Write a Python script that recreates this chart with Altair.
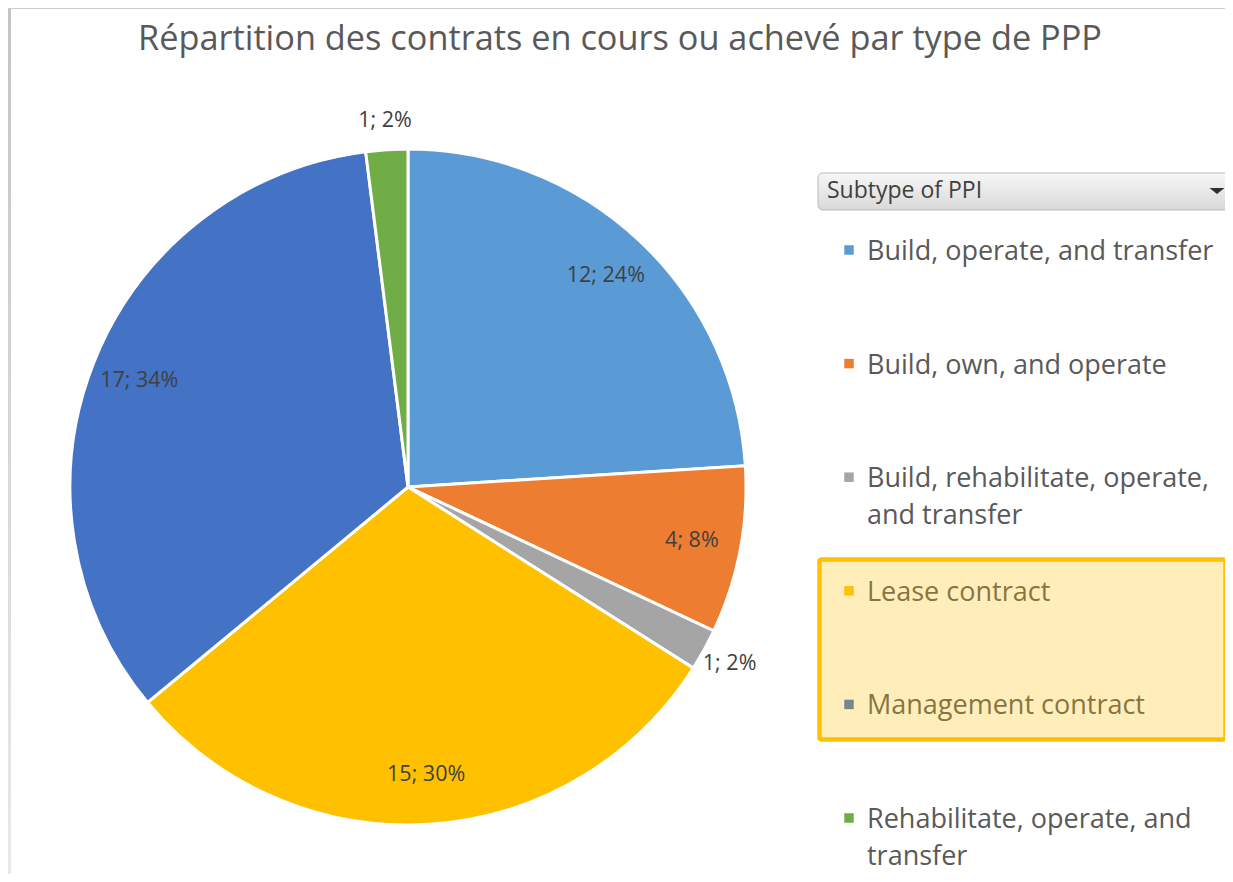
import altair as alt
import pandas as pd

# ---------------- data ----------------
categories = [
    "Build, operate, and transfer",
    "Build, own, and operate",
    "Build, rehabilitate, operate, and transfer",
    "Lease contract",
    "Management contract",
    "Rehabilitate, operate, and transfer",
]
counts = [12, 4, 1, 15, 17, 1]
colors = ["#5B9BD5", "#ED7D31", "#A5A5A5", "#FFC000", "#4472C4", "#70AD47"]
legend_lines = [
    "Build, operate, and transfer",
    "Build, own, and operate",
    "Build, rehabilitate, operate,\nand transfer",
    "Lease contract",
    "Management contract",
    "Rehabilitate, operate, and\ntransfer",
]
title_text = "Répartition des contrats en cours ou achevé par type de PPP"
dropdown_text = "Subtype of PPI"

df = pd.DataFrame({
    "category": categories,
    "count": counts,
    "idx": list(range(len(categories))),
    "legend": legend_lines,
})
one = pd.DataFrame({"k": [0]})

FONT = "Open Sans"
CX, CY, R = 400, 479, 338

color = alt.Color("category:N", scale=alt.Scale(domain=categories, range=colors), legend=None)
theta = alt.Theta("count:Q", stack=True)
order = alt.Order("idx:Q", sort="ascending")

base = alt.Chart(df)

pie = base.mark_arc(radius=R, stroke="white", strokeWidth=3).encode(
    theta=theta, order=order, color=color, x=alt.value(CX), y=alt.value(CY)
)

lab = (
    base.transform_joinaggregate(total="sum(count)")
    .transform_calculate(lab="datum.count + '; ' + format(datum.count / datum.total * 100, '.0f') + '%'")
    .transform_calculate(lab_in="datum.count > 2 ? datum.lab : ''")
    .transform_calculate(lab_out="datum.count > 2 ? '' : datum.lab")
)
lab_in = lab.mark_text(radius=289, font=FONT, fontSize=21.5, color="#404040").encode(
    theta=theta, order=order, text="lab_in:N", x=alt.value(CX), y=alt.value(CY)
)
lab_out = lab.mark_text(radius=367, font=FONT, fontSize=21.5, color="#404040").encode(
    theta=theta, order=order, text="lab_out:N", x=alt.value(CX), y=alt.value(CY)
)

title = alt.Chart(one).mark_text(
    font=FONT, fontSize=34.3, color="#595959", align="center", baseline="middle"
).encode(x=alt.value(612), y=alt.value(32), text=alt.value(title_text))

# frame strips
left_strip = alt.Chart(one).mark_rect(
    fill=alt.Gradient(gradient="linear",
                      stops=[alt.GradientStop(color="#c4c4c4", offset=0),
                             alt.GradientStop(color="#e8e9eb", offset=1)],
                      x1=0, x2=0, y1=0, y2=1)
).encode(x=alt.value(0), x2=alt.value(3), y=alt.value(0), y2=alt.value(866))
top_strip = alt.Chart(one).mark_rect(fill="#cccccc").encode(
    x=alt.value(0), x2=alt.value(1217), y=alt.value(0), y2=alt.value(1)
)

# dropdown button
btn = alt.Chart(one).mark_rect(
    cornerRadius=5, stroke="#b8b8b8", strokeWidth=1,
    fill=alt.Gradient(gradient="linear",
                      stops=[alt.GradientStop(color="#f7f7f7", offset=0),
                             alt.GradientStop(color="#d9d9d9", offset=1)],
                      x1=0, x2=0, y1=0, y2=1),
).encode(x=alt.value(810), x2=alt.value(1226), y=alt.value(165), y2=alt.value(202))
btn_text = alt.Chart(one).mark_text(
    font=FONT, fontSize=23, color="#404040", align="left", baseline="middle"
).encode(x=alt.value(819), y=alt.value(183), text=alt.value(dropdown_text))
btn_arrow = alt.Chart(one).mark_point(
    shape="M-1,-0.4L1,-0.4L0,0.4Z", size=225, filled=True, color="#303030", opacity=1
).encode(x=alt.value(1209), y=alt.value(183))

# legend
ys = alt.Y("category:N", scale=alt.Scale(type="point", domain=categories, range=[242, 810], padding=0), axis=None)
leg_marks = base.mark_square(size=90, opacity=1).encode(x=alt.value(841), y=ys, color=color)
leg_text = base.mark_text(
    font=FONT, fontSize=27, color="#595959", align="left", baseline="alphabetic",
    dy=10, lineBreak="\n", lineHeight=37,
).encode(x=alt.value(859), y=ys, text="legend:N")

highlight = alt.Chart(one).mark_rect(
    fill="#FFC000", fillOpacity=0.27, stroke="#FFC000", strokeWidth=4.5, cornerRadius=2
).encode(x=alt.value(811.5), x2=alt.value(1217.5), y=alt.value(551.5), y2=alt.value(731.5))

chart = alt.layer(
    left_strip, top_strip, pie, lab_in, lab_out, title, btn, btn_text, btn_arrow,
    leg_marks, leg_text, highlight,
).properties(
    width=1217, height=866, padding=0, autosize="none", background="white"
).configure_view(stroke=None)

chart.save("out.html", embed_options={"renderer": "svg", "actions": False})
